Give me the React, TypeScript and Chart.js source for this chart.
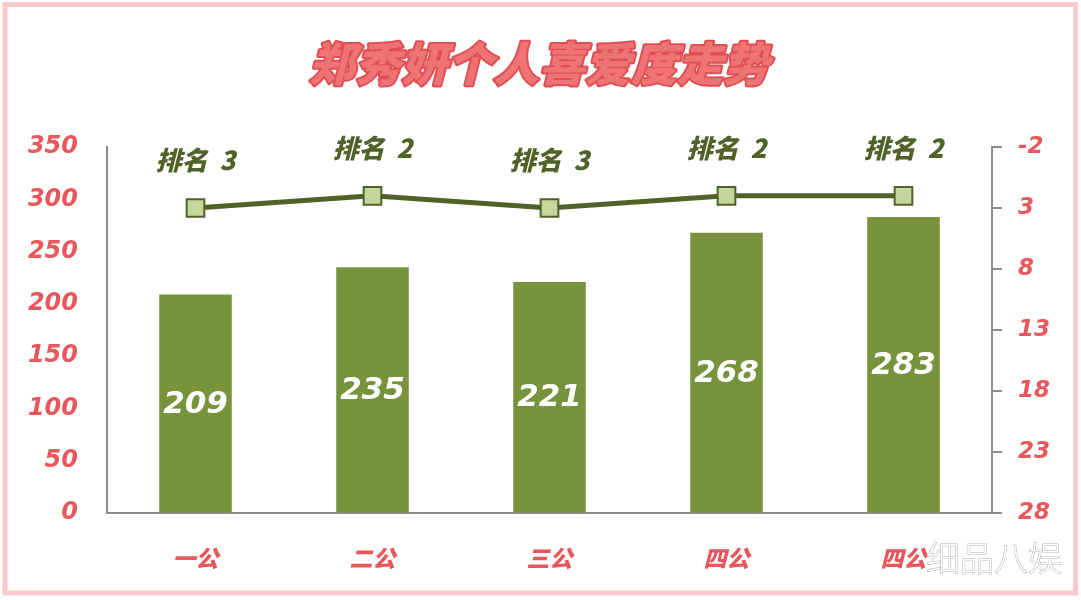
import React, { useEffect, useRef } from "react";
import { Chart, registerables } from "chart.js";

Chart.register(...registerables);

const categories = ["一公", "二公", "三公", "四公", "四公"];
const popularity = [209, 235, 221, 268, 283];
const ranks = [3, 2, 3, 2, 2];
const titleText = "郑秀妍个人喜爱度走势";
const watermark = "细品八娱";

const RED = "#e8575b";
const AXIS = "#8c8c8c";
const BAR = "#77933c";
const LINE = "#4f6228";
const POINT = "#c3d69b";
const FONT = "'DejaVu Sans', 'Noto Sans CJK SC', sans-serif";
const CJK = "'Noto Sans CJK SC', 'DejaVu Sans', sans-serif";

const decorPlugin = {
  id: "decor",
  beforeDraw(chart: any) {
    const ctx = chart.ctx;
    ctx.save();
    ctx.fillStyle = "#ffffff";
    ctx.fillRect(0, 0, chart.width, chart.height);
    ctx.strokeStyle = "#ffc8ca";
    ctx.lineWidth = 5;
    ctx.strokeRect(5, 4.5, 1070.5, 588.5);
    // title
    ctx.font = `italic 900 46px ${CJK}`;
    ctx.textAlign = "center";
    ctx.textBaseline = "middle";
    ctx.lineJoin = "round";
    ctx.strokeStyle = "#e14f53";
    ctx.lineWidth = 4;
    ctx.strokeText(titleText, 539, 64);
    ctx.fillStyle = "#ee7375";
    ctx.fillText(titleText, 539, 64);
    ctx.restore();
  },
  afterDatasetsDraw(chart: any) {
    const ctx = chart.ctx;
    ctx.save();
    ctx.textAlign = "center";
    ctx.textBaseline = "middle";
    const barMeta = chart.getDatasetMeta(1);
    barMeta.data.forEach((el: any, i: number) => {
      const cy = (el.y + el.base) / 2;
      ctx.font = `italic bold 31px ${FONT}`;
      ctx.fillStyle = "#ffffff";
      ctx.fillText(String(popularity[i]), el.x, cy + 1);
    });
    const lineMeta = chart.getDatasetMeta(0);
    lineMeta.data.forEach((el: any, i: number) => {
      ctx.font = `italic 900 26px ${CJK}`;
      ctx.fillStyle = LINE;
      ctx.fillText("排名  " + ranks[i], el.x, el.y - 48);
    });
    // watermark
    ctx.font = `300 34px ${CJK}`;
    ctx.textAlign = "left";
    ctx.strokeStyle = "#b0b0b0";
    ctx.lineWidth = 1;
    ctx.strokeText(watermark, 926, 558);
    ctx.fillStyle = "#ffffff";
    ctx.fillText(watermark, 926, 558);
    ctx.restore();
  },
};

export default function App() {
  const ref = useRef<HTMLCanvasElement>(null);
  useEffect(() => {
    if (!ref.current) return;
    const chart = new Chart(ref.current, {
      type: "bar",
      data: {
        labels: categories,
        datasets: [
          {
            type: "line",
            label: "排名",
            data: ranks,
            yAxisID: "y1",
            borderColor: LINE,
            borderWidth: 5,
            pointStyle: "rect",
            pointRadius: 12.5,
            pointBackgroundColor: POINT,
            pointBorderColor: LINE,
            pointBorderWidth: 2,
            order: 0,
          } as any,
          {
            type: "bar",
            label: "喜爱度",
            data: popularity,
            yAxisID: "y",
            backgroundColor: BAR,
            barPercentage: 0.41,
            categoryPercentage: 1,
            order: 1,
          },
        ],
      },
      options: {
        responsive: false,
        animation: false,
        layout: { padding: { top: 147, left: 0, right: 0, bottom: 0 } },
        plugins: { legend: { display: false }, tooltip: { enabled: false }, title: { display: false } },
        scales: {
          x: {
            grid: { display: false, drawTicks: false },
            border: { display: true, color: AXIS, width: 2 },
            ticks: { color: RED, padding: 31, font: { family: CJK, size: 23, weight: "900", style: "italic" } },
            afterFit: (s: any) => { s.height = 87; },
          },
          y: {
            position: "left",
            min: 0,
            max: 350,
            ticks: { stepSize: 50, color: RED, padding: 29, font: { family: FONT, size: 24, weight: "bold", style: "italic" } },
            grid: { drawOnChartArea: false, drawTicks: false },
            border: { display: true, color: AXIS, width: 2 },
            afterFit: (s: any) => { s.width = 107; },
          },
          y1: {
            position: "right",
            min: -2,
            max: 28,
            reverse: true,
            ticks: { stepSize: 5, color: RED, padding: 16, font: { family: FONT, size: 23, weight: "bold", style: "italic" } },
            grid: { drawOnChartArea: false, drawTicks: true, tickLength: 10, color: AXIS, lineWidth: 2 },
            border: { display: true, color: AXIS, width: 2 },
            afterFit: (s: any) => { s.width = 89; },
          },
        },
      },
      plugins: [decorPlugin],
    });
    return () => chart.destroy();
  }, []);
  return (
    <div style={{ position: "fixed", left: 0, top: 0, width: 1081, height: 600, background: "#fff" }}>
      <canvas ref={ref} width={1081} height={600} style={{ display: "block" }} />
    </div>
  );
}
